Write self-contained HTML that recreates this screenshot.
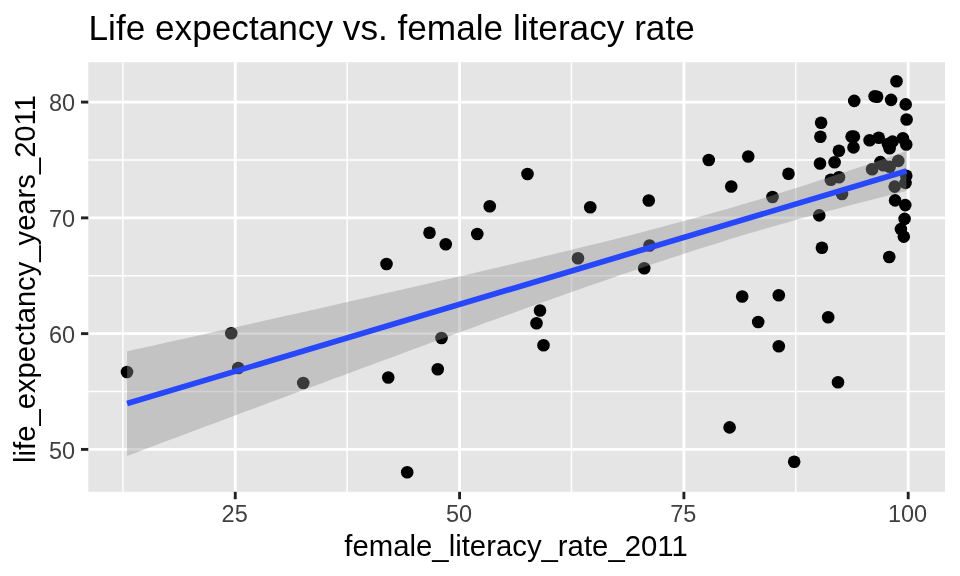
<!DOCTYPE html>
<html><head><meta charset="utf-8"><title>Life expectancy vs. female literacy rate</title>
<style>html,body{margin:0;padding:0;background:#fff;}svg{display:block;will-change:transform;}text{font-family:"Liberation Sans",sans-serif;}</style></head>
<body>
<svg width="960" height="576" viewBox="0 0 960 576">
<rect width="960" height="576" fill="#FFFFFF"/>
<rect x="88.3" y="62.25" width="856.7" height="429.55" fill="#E5E5E5"/>
<g stroke="#FFFFFF" stroke-width="1.45">
<line x1="122.84" x2="122.84" y1="62.25" y2="491.8"/>
<line x1="347.16" x2="347.16" y1="62.25" y2="491.8"/>
<line x1="571.47" x2="571.47" y1="62.25" y2="491.8"/>
<line x1="795.79" x2="795.79" y1="62.25" y2="491.8"/>
<line y1="391.52" y2="391.52" x1="88.3" x2="945.0"/>
<line y1="275.75" y2="275.75" x1="88.3" x2="945.0"/>
<line y1="159.98" y2="159.98" x1="88.3" x2="945.0"/>
</g>
<g stroke="#FFFFFF" stroke-width="2.9">
<line x1="235.25" x2="235.25" y1="62.25" y2="491.8"/>
<line x1="459.57" x2="459.57" y1="62.25" y2="491.8"/>
<line x1="683.88" x2="683.88" y1="62.25" y2="491.8"/>
<line x1="908.20" x2="908.20" y1="62.25" y2="491.8"/>
<line y1="449.41" y2="449.41" x1="88.3" x2="945.0"/>
<line y1="333.64" y2="333.64" x1="88.3" x2="945.0"/>
<line y1="217.87" y2="217.87" x1="88.3" x2="945.0"/>
<line y1="102.10" y2="102.10" x1="88.3" x2="945.0"/>
</g>
<g fill="#000000">
<circle cx="127.00" cy="372.00" r="6.3"/>
<circle cx="231.25" cy="333.25" r="6.3"/>
<circle cx="238.25" cy="368.00" r="6.3"/>
<circle cx="303.25" cy="383.00" r="6.3"/>
<circle cx="386.50" cy="264.00" r="6.3"/>
<circle cx="429.50" cy="232.75" r="6.3"/>
<circle cx="445.75" cy="244.25" r="6.3"/>
<circle cx="477.25" cy="234.00" r="6.3"/>
<circle cx="489.75" cy="206.25" r="6.3"/>
<circle cx="527.50" cy="174.00" r="6.3"/>
<circle cx="388.25" cy="377.50" r="6.3"/>
<circle cx="437.75" cy="369.25" r="6.3"/>
<circle cx="441.50" cy="338.00" r="6.3"/>
<circle cx="540.00" cy="310.50" r="6.3"/>
<circle cx="536.50" cy="323.25" r="6.3"/>
<circle cx="543.50" cy="345.25" r="6.3"/>
<circle cx="407.20" cy="472.30" r="6.3"/>
<circle cx="590.25" cy="207.25" r="6.3"/>
<circle cx="648.75" cy="200.50" r="6.3"/>
<circle cx="578.00" cy="258.25" r="6.3"/>
<circle cx="649.50" cy="245.50" r="6.3"/>
<circle cx="644.25" cy="268.25" r="6.3"/>
<circle cx="708.75" cy="160.00" r="6.3"/>
<circle cx="748.25" cy="156.50" r="6.3"/>
<circle cx="731.25" cy="186.50" r="6.3"/>
<circle cx="772.50" cy="197.00" r="6.3"/>
<circle cx="788.50" cy="173.75" r="6.3"/>
<circle cx="742.20" cy="296.50" r="6.3"/>
<circle cx="778.80" cy="295.30" r="6.3"/>
<circle cx="758.20" cy="322.00" r="6.3"/>
<circle cx="828.20" cy="317.30" r="6.3"/>
<circle cx="778.80" cy="346.30" r="6.3"/>
<circle cx="729.60" cy="427.40" r="6.3"/>
<circle cx="794.20" cy="461.80" r="6.3"/>
<circle cx="838.00" cy="382.20" r="6.3"/>
<circle cx="896.50" cy="81.25" r="6.3"/>
<circle cx="854.25" cy="100.90" r="6.3"/>
<circle cx="874.60" cy="96.30" r="6.3"/>
<circle cx="877.10" cy="96.70" r="6.3"/>
<circle cx="891.10" cy="99.90" r="6.3"/>
<circle cx="905.70" cy="104.40" r="6.3"/>
<circle cx="906.60" cy="119.50" r="6.3"/>
<circle cx="821.10" cy="122.80" r="6.3"/>
<circle cx="820.40" cy="136.80" r="6.3"/>
<circle cx="851.60" cy="136.60" r="6.3"/>
<circle cx="853.90" cy="136.60" r="6.3"/>
<circle cx="853.50" cy="147.40" r="6.3"/>
<circle cx="838.90" cy="150.70" r="6.3"/>
<circle cx="869.60" cy="140.30" r="6.3"/>
<circle cx="878.75" cy="137.80" r="6.3"/>
<circle cx="892.50" cy="141.60" r="6.3"/>
<circle cx="887.90" cy="144.10" r="6.3"/>
<circle cx="889.60" cy="148.25" r="6.3"/>
<circle cx="902.90" cy="138.25" r="6.3"/>
<circle cx="906.25" cy="144.50" r="6.3"/>
<circle cx="820.00" cy="163.50" r="6.3"/>
<circle cx="834.60" cy="162.30" r="6.3"/>
<circle cx="830.80" cy="179.80" r="6.3"/>
<circle cx="839.00" cy="177.30" r="6.3"/>
<circle cx="842.00" cy="194.00" r="6.3"/>
<circle cx="872.10" cy="169.20" r="6.3"/>
<circle cx="880.40" cy="162.10" r="6.3"/>
<circle cx="883.30" cy="165.25" r="6.3"/>
<circle cx="889.70" cy="166.75" r="6.3"/>
<circle cx="898.30" cy="160.90" r="6.3"/>
<circle cx="906.25" cy="175.80" r="6.3"/>
<circle cx="905.50" cy="182.90" r="6.3"/>
<circle cx="894.70" cy="186.60" r="6.3"/>
<circle cx="895.10" cy="200.40" r="6.3"/>
<circle cx="905.30" cy="205.10" r="6.3"/>
<circle cx="904.60" cy="218.90" r="6.3"/>
<circle cx="900.90" cy="229.10" r="6.3"/>
<circle cx="903.80" cy="236.60" r="6.3"/>
<circle cx="889.25" cy="257.00" r="6.3"/>
<circle cx="819.25" cy="215.40" r="6.3"/>
<circle cx="821.90" cy="247.80" r="6.3"/>
</g>
<polygon points="127.10,351.29 136.96,349.10 146.83,346.91 156.69,344.71 166.56,342.52 176.42,340.33 186.29,338.13 196.15,335.94 206.02,333.74 215.88,331.54 225.75,329.34 235.61,327.13 245.47,324.93 255.34,322.72 265.20,320.51 275.07,318.30 284.93,316.09 294.80,313.88 304.66,311.66 314.53,309.44 324.39,307.22 334.26,304.99 344.12,302.76 353.98,300.53 363.85,298.30 373.71,296.06 383.58,293.81 393.44,291.57 403.31,289.32 413.17,287.06 423.04,284.80 432.90,282.53 442.77,280.26 452.63,277.98 462.49,275.70 472.36,273.41 482.22,271.11 492.09,268.80 501.95,266.49 511.82,264.16 521.68,261.83 531.55,259.48 541.41,257.12 551.28,254.75 561.14,252.37 571.01,249.97 580.87,247.55 590.73,245.12 600.60,242.67 610.46,240.20 620.33,237.71 630.19,235.19 640.06,232.65 649.92,230.08 659.79,227.49 669.65,224.86 679.52,222.21 689.38,219.52 699.24,216.79 709.11,214.03 718.97,211.23 728.84,208.39 738.70,205.52 748.57,202.60 758.43,199.64 768.30,196.64 778.16,193.60 788.03,190.52 797.89,187.41 807.75,184.26 817.62,181.07 827.48,177.85 837.35,174.59 847.21,171.31 857.08,167.99 866.94,164.65 876.81,161.29 886.67,157.90 896.54,154.49 906.40,151.06 906.40,190.94 896.54,193.40 886.67,195.88 876.81,198.38 866.94,200.90 857.08,203.45 847.21,206.02 837.35,208.63 827.48,211.26 817.62,213.93 807.75,216.63 797.89,219.37 788.03,222.14 778.16,224.95 768.30,227.80 758.43,230.69 748.57,233.62 738.70,236.59 728.84,239.60 718.97,242.65 709.11,245.74 699.24,248.87 689.38,252.03 679.52,255.23 669.65,258.46 659.79,261.73 649.92,265.02 640.06,268.34 630.19,271.69 620.33,275.06 610.46,278.46 600.60,281.88 590.73,285.31 580.87,288.77 571.01,292.24 561.14,295.73 551.28,299.24 541.41,302.76 531.55,306.29 521.68,309.83 511.82,313.38 501.95,316.95 492.09,320.52 482.22,324.10 472.36,327.69 462.49,331.29 452.63,334.89 442.77,338.50 432.90,342.12 423.04,345.74 413.17,349.37 403.31,353.00 393.44,356.64 383.58,360.28 373.71,363.93 363.85,367.58 353.98,371.23 344.12,374.89 334.26,378.55 324.39,382.21 314.53,385.88 304.66,389.55 294.80,393.22 284.93,396.89 275.07,400.57 265.20,404.24 255.34,407.93 245.47,411.61 235.61,415.29 225.75,418.98 215.88,422.66 206.02,426.35 196.15,430.04 186.29,433.74 176.42,437.43 166.56,441.12 156.69,444.82 146.83,448.52 136.96,452.21 127.10,455.91" fill="#909090" fill-opacity="0.4"/>
<line x1="127.1" y1="403.6" x2="906.4" y2="171.0" stroke="#2747FC" stroke-width="5.7"/>
<g stroke="#222222" stroke-width="2.9">
<line x1="235.25" x2="235.25" y1="491.8" y2="499.2"/>
<line x1="459.57" x2="459.57" y1="491.8" y2="499.2"/>
<line x1="683.88" x2="683.88" y1="491.8" y2="499.2"/>
<line x1="908.20" x2="908.20" y1="491.8" y2="499.2"/>
<line y1="449.41" y2="449.41" x1="81.0" x2="88.3"/>
<line y1="333.64" y2="333.64" x1="81.0" x2="88.3"/>
<line y1="217.87" y2="217.87" x1="81.0" x2="88.3"/>
<line y1="102.10" y2="102.10" x1="81.0" x2="88.3"/>
</g>
<g font-family="Liberation Sans, sans-serif" font-size="23.5" fill="#404040">
<text x="234.65" y="522.2" text-anchor="middle">25</text>
<text x="458.97" y="522.2" text-anchor="middle">50</text>
<text x="683.28" y="522.2" text-anchor="middle">75</text>
<text x="907.60" y="522.2" text-anchor="middle">100</text>
<text x="75.2" y="458.51" text-anchor="end">50</text>
<text x="75.2" y="342.74" text-anchor="end">60</text>
<text x="75.2" y="226.97" text-anchor="end">70</text>
<text x="75.2" y="111.20" text-anchor="end">80</text>
</g>
<g font-family="Liberation Sans, sans-serif" fill="#000000">
<text x="88.5" y="40.2" font-size="35.2">Life expectancy vs. female literacy rate</text>
<text x="516.05" y="555.8" font-size="29.33" text-anchor="middle">female_literacy_rate_2011</text>
<text transform="translate(34.5,279) rotate(-90)" font-size="29.2" text-anchor="middle">life_expectancy_years_2011</text>
</g>
</svg>
</body></html>
